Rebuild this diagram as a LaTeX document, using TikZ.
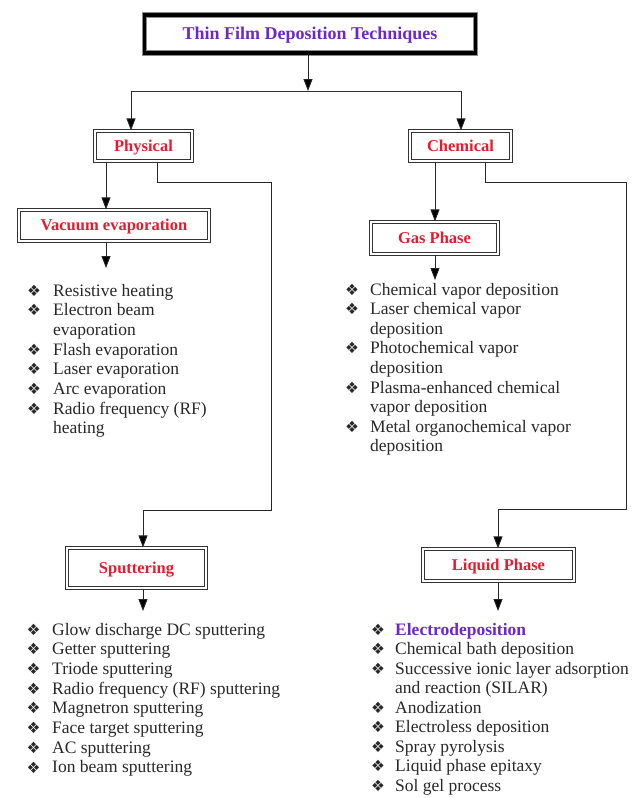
\documentclass[tikz,border=0pt]{standalone}
\usepackage{fontspec}
\setmainfont{Liberation Serif}
\newfontfamily\bulfont{DejaVu Sans}
\usetikzlibrary{arrows.meta}
\definecolor{boxred}{RGB}{228,28,48}
\definecolor{tpurple}{RGB}{108,40,200}
\definecolor{txt}{RGB}{40,40,40}
\begin{document}
\begin{tikzpicture}[x=1pt,y=-1pt,
  box/.style={draw=black!80, double=white, double distance=2pt, line width=1.2pt,
    fill=white, text=boxred, font=\bfseries\fontsize{16.5}{18}\selectfont, inner sep=0pt,
    text height=10pt, text depth=0pt},
  titlebox/.style={draw=black!45, double=black, double distance=3.5pt, line width=1pt,
    fill=white, text=tpurple, font=\bfseries\fontsize{18}{20}\selectfont, inner sep=0pt,
    minimum width=331pt, minimum height=38pt, text height=11pt, text depth=0pt},
  arr/.style={draw=black!85, line width=0.9pt, -{Triangle[length=12pt,width=9pt,fill=black]}},
  link/.style={draw=black!80, line width=0.9pt},
  listitem/.style={anchor=base west, inner sep=0pt, text=txt, font=\fontsize{17.5}{19}\selectfont},
  bul/.style={anchor=center, inner sep=0pt, text=txt, font=\bulfont\fontsize{15.5}{16}\selectfont},
  ]
\useasboundingbox (0,0) rectangle (637,798);

% boxes
\node[titlebox] (title) at (310,34) {Thin Film Deposition Techniques};
\node[box, minimum width=97pt, minimum height=30pt] (phys) at (143.5,146) {Physical};
\node[box, minimum width=101pt, minimum height=30pt] (chem) at (460.5,146) {Chemical};
\node[box, minimum width=190pt, minimum height=31pt] (vac) at (114,225.5) {Vacuum evaporation};
\node[box, minimum width=127pt, minimum height=32pt] (gas) at (434.5,238) {Gas Phase};
\node[box, minimum width=139pt, minimum height=40pt] (sput) at (136.5,568) {Sputtering};
\node[box, minimum width=151pt, minimum height=32pt] (liq) at (498.5,565) {Liquid Phase};

% junction coordinates
\coordinate (tj) at (308,91);
\coordinate (tl) at (131,91);
\coordinate (tr) at (461,91);
\coordinate (pv) at (106,0);
\coordinate (pa) at (157,182);
\coordinate (pb) at (271,510);
\coordinate (pc) at (143,510);
\coordinate (cv) at (435,0);
\coordinate (ca) at (485,182);
\coordinate (cb) at (626,509);
\coordinate (cc) at (498,509);
\coordinate (vl) at (106,268);
\coordinate (gl) at (435,280);
\coordinate (sl) at (143,611);
\coordinate (ll) at (498,611);

% connectors
\draw[arr] (title.south -| tj) -- (tj);
\draw[link] (tl) -- (tr);
\draw[arr] (tl) -- (tl |- phys.north);
\draw[arr] (tr) -- (tr |- chem.north);
\draw[arr] (pv |- phys.south) -- (pv |- vac.north);
\draw[arr] (pa |- phys.south) -- (pa) -- (pa -| pb) -- (pb) -- (pc) -- (pc |- sput.north);
\draw[arr] (cv |- chem.south) -- (cv |- gas.north);
\draw[arr] (ca |- chem.south) -- (ca) -- (ca -| cb) -- (cb) -- (cc) -- (cc |- liq.north);
\draw[arr] (vl |- vac.south) -- (vl);
\draw[arr] (gl |- gas.south) -- (gl);
\draw[arr] (sl |- sput.south) -- (sl);
\draw[arr] (ll |- liq.south) -- (ll);

% lists
\foreach \k/\t [count=\i from 0] in {1/Resistive heating,1/Electron beam,0/evaporation,1/Flash evaporation,1/Laser evaporation,1/Arc evaporation,1/Radio frequency (RF),0/heating}{
  \node[listitem] (va\i) at (53,296+19.7*\i) {\t};
  \ifnum\k=1 \node[bul] (vab\i) at (34,290.5+19.7*\i) {❖};\fi
}
\foreach \k/\t [count=\i from 0] in {1/Chemical vapor deposition,1/Laser chemical vapor,0/deposition,1/Photochemical vapor,0/deposition,1/Plasma-enhanced chemical,0/vapor deposition,1/Metal organochemical vapor,0/deposition}{
  \node[listitem] (ga\i) at (370,295+19.6*\i) {\t};
  \ifnum\k=1 \node[bul] (gab\i) at (352,289.5+19.6*\i) {❖};\fi
}
\foreach \k/\t [count=\i from 0] in {1/Glow discharge DC sputtering,1/Getter sputtering,1/Triode sputtering,1/Radio frequency (RF) sputtering,1/Magnetron sputtering,1/Face target sputtering,1/AC sputtering,1/Ion beam sputtering}{
  \node[listitem] (sa\i) at (52,635+19.7*\i) {\t};
  \ifnum\k=1 \node[bul] (sab\i) at (33.5,629.5+19.7*\i) {❖};\fi
}
\foreach \k/\t [count=\i from 0] in {1/{\color{tpurple}\bfseries Electrodeposition},1/Chemical bath deposition,1/Successive ionic layer adsorption,0/and reaction (SILAR),1/Anodization,1/Electroless deposition,1/Spray pyrolysis,1/Liquid phase epitaxy,1/Sol gel process}{
  \node[listitem] (la\i) at (395,635+19.5*\i) {\t};
  \ifnum\k=1 \node[bul] (lab\i) at (378,629.5+19.5*\i) {❖};\fi
}
\end{tikzpicture}
\end{document}
